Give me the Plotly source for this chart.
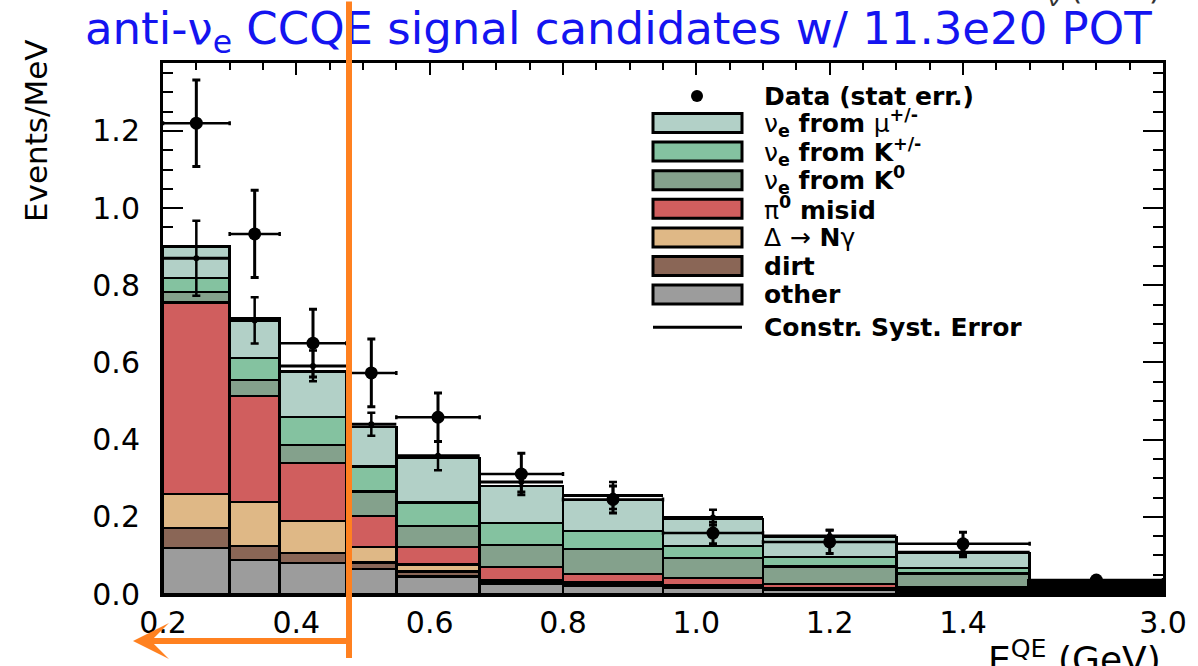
import plotly.graph_objects as go

# Reconstructed neutrino energy bins (GeV); the last bin is drawn compressed
edges = [0.2, 0.3, 0.375, 0.475, 0.55, 0.675, 0.8, 0.95, 1.1, 1.3, 1.5, 3.0]

# Predicted background components (Events/MeV), stacked bottom -> top
other   = [0.119, 0.088, 0.080, 0.065, 0.045, 0.026, 0.022, 0.016, 0.010, 0.006, 0.004]
dirt    = [0.052, 0.036, 0.026, 0.016, 0.013, 0.004, 0.004, 0.003, 0.002, 0.002, 0.002]
delta   = [0.088, 0.114, 0.083, 0.041, 0.019, 0.006, 0.004, 0.003, 0.002, 0.002, 0.002]
pi0     = [0.497, 0.275, 0.150, 0.080, 0.045, 0.034, 0.022, 0.019, 0.012, 0.007, 0.004]
nue_k0  = [0.027, 0.041, 0.047, 0.063, 0.054, 0.057, 0.065, 0.052, 0.045, 0.036, 0.010]
nue_kpm = [0.036, 0.057, 0.073, 0.066, 0.061, 0.057, 0.046, 0.031, 0.025, 0.015, 0.005]
nue_mu  = [0.081, 0.104, 0.118, 0.102, 0.115, 0.096, 0.080, 0.071, 0.052, 0.038, 0.007]

# Constrained prediction and its systematic error
constr     = [0.870, 0.709, 0.591, 0.440, 0.358, 0.290, 0.255, 0.198, 0.150, 0.108, 0.035]
constr_err = [0.097, 0.060, 0.040, 0.030, 0.037, 0.025, 0.035, 0.020, 0.016, 0.012, 0.005]

# Data with statistical errors
data_y   = [1.220, 0.933, 0.650, 0.573, 0.458, 0.311, 0.245, 0.158, 0.135, 0.130, 0.036]
data_err = [0.112, 0.113, 0.088, 0.088, 0.063, 0.054, 0.035, 0.028, 0.030, 0.030, 0.006]

tick_energies = [0.2, 0.4, 0.6, 0.8, 1.0, 1.2, 1.4, 3.0]
tick_labels = ["0.2", "0.4", "0.6", "0.8", "1.0", "1.2", "1.4", "3.0"]

components = [
    ("other", other, "#9c9c9c"),
    ("dirt", dirt, "#8a6656"),
    ("delta", delta, "#dfb886"),
    ("pi0", pi0, "#d05e5e"),
    ("nue_k0", nue_k0, "#84a18c"),
    ("nue_kpm", nue_kpm, "#84c2a0"),
    ("nue_mu", nue_mu, "#b2d0c7"),
]

legend_rows = [
    ("ν<sub>e</sub> from μ<sup>+/-</sup>", "#b2d0c7"),
    ("ν<sub>e</sub> from K<sup>+/-</sup>", "#84c2a0"),
    ("ν<sub>e</sub> from K<sup>0</sup>", "#84a18c"),
    ("π<sup>0</sup> misid", "#d05e5e"),
    ("Δ → Nγ", "#dfb886"),
    ("dirt", "#8a6656"),
    ("other", "#9c9c9c"),
]


def axis_pos(e):
    """Map energy to axis position: linear to 1.5 GeV, 1.5-3.0 GeV squeezed."""
    return e if e <= 1.5 else 1.5 + (e - 1.5) * (0.2 / 1.5)


lo = [axis_pos(e) for e in edges[:-1]]
hi = [axis_pos(e) for e in edges[1:]]
centers = [(a + b) / 2 for a, b in zip(lo, hi)]
widths = [b - a for a, b in zip(lo, hi)]
half = [w / 2 for w in widths]
# outlines merge into a solid band in the narrow high-energy bin
outline_w = [2.5] * (len(widths) - 1) + [4.5]

W, H = 1198, 666
ML, MR, MT, MB = 163, 35, 63, 72
PW, PH = W - ML - MR, H - MT - MB


def px(x):
    return (x - ML) / PW


def py(y):
    return (H - MB - y) / PH


fig = go.Figure()

for name, vals, col in components:
    fig.add_trace(go.Bar(
        x=centers, y=vals, width=widths, name=name,
        marker=dict(color=col, line=dict(color="black", width=outline_w)),
        showlegend=False,
    ))

fig.add_trace(go.Scatter(
    x=centers, y=constr, mode="markers",
    marker=dict(size=0, color="black"),
    error_x=dict(type="data", array=half, color="black", thickness=3, width=0),
    error_y=dict(type="data", array=constr_err, color="black", thickness=2.5, width=4),
    showlegend=False,
))

fig.add_trace(go.Scatter(
    x=centers, y=data_y, mode="markers",
    marker=dict(size=13, color="black"),
    error_x=dict(type="data", array=half, color="black", thickness=2.5, width=2),
    error_y=dict(type="data", array=data_err, color="black", thickness=3, width=4),
    showlegend=False,
))

shapes = []
annotations = []

# Legend block
box_x0, box_x1, text_x = px(653), px(742), px(762)
row_h = 28.6
first_row = 123
legend_font = dict(family="DejaVu Sans", size=25, color="black")
annotations.append(dict(
    x=text_x, y=py(96), xref="paper", yref="paper", xanchor="left", yanchor="middle",
    text="<b>Data (stat err.)</b>", showarrow=False, font=legend_font,
))
fig.add_trace(go.Scatter(
    x=[px(697)], y=[py(96)], xaxis="x2", yaxis="y2", mode="markers",
    marker=dict(size=12, color="black"), showlegend=False,
))
for i, (label, col) in enumerate(legend_rows):
    yc = first_row + i * row_h
    shapes.append(dict(
        type="rect", xref="paper", yref="paper",
        x0=box_x0, x1=box_x1, y0=py(yc + 9.5), y1=py(yc - 9.5),
        fillcolor=col, line=dict(color="black", width=3),
    ))
    lab = label
    for g in ["ν", "μ", "π", "Δ", "γ", "→"]:
        lab = lab.replace(g, "<span style='font-weight:normal'>%s</span>" % g)
    annotations.append(dict(
        x=text_x, y=py(yc), xref="paper", yref="paper", xanchor="left", yanchor="middle",
        text="<b>%s</b>" % lab, showarrow=False, font=legend_font,
    ))
yl = first_row + 7 * row_h + 4
shapes.append(dict(
    type="line", xref="paper", yref="paper",
    x0=box_x0, x1=box_x1, y0=py(yl), y1=py(yl),
    line=dict(color="black", width=3),
))
annotations.append(dict(
    x=text_x, y=py(yl), xref="paper", yref="paper", xanchor="left", yanchor="middle",
    text="<b>Constr. Syst. Error</b>", showarrow=False, font=legend_font,
))

# Axis titles
annotations.append(dict(
    x=px(36), y=py(131), xref="paper", yref="paper", xanchor="center", yanchor="middle",
    text="Events/MeV", textangle=-90, showarrow=False,
    font=dict(family="DejaVu Sans", size=31, color="black"),
))
annotations.append(dict(
    x=px(1163), y=py(632), xref="paper", yref="paper", xanchor="right", yanchor="top",
    text="E<sup>QE</sup> (GeV)", showarrow=False,
    font=dict(family="DejaVu Sans", size=36, color="black"),
))
annotations.append(dict(
    x=px(1014), y=py(670), xref="paper", yref="paper", xanchor="center", yanchor="middle",
    text="ν", showarrow=False,
    font=dict(family="DejaVu Sans", size=22, color="black"),
))
# Axis title of the panel above, cut by the page edge
annotations.append(dict(
    x=px(1163), y=py(13), xref="paper", yref="paper", xanchor="right", yanchor="bottom",
    text="E<sub>ν</sub> (GeV)", showarrow=False,
    font=dict(family="DejaVu Sans", size=32, color="#333333"),
))

# Title
annotations.append(dict(
    x=px(618), y=py(31), xref="paper", yref="paper", xanchor="center", yanchor="middle",
    text="anti-ν<sub>e</sub> CCQE signal candidates w/ 11.3e20 POT", showarrow=False,
    font=dict(family="DejaVu Sans", size=45, color="#1414f0"),
))

# Orange energy-cut marker with arrow pointing to lower energies
cut_px = 349
annotations.append(dict(
    x=px(cut_px), y=py(658), ax=0, ay=-662, xref="paper", yref="paper",
    axref="pixel", ayref="pixel", text="", showarrow=True, arrowhead=0,
    arrowwidth=6, arrowcolor="#ff8120", standoff=0, startstandoff=0,
))
annotations.append(dict(
    x=px(133), y=py(641), ax=cut_px - 133, ay=0, xref="paper", yref="paper",
    axref="pixel", ayref="pixel", text="", showarrow=True, arrowhead=3,
    arrowsize=1.0, arrowwidth=6, arrowcolor="#ff8120", standoff=0, startstandoff=0,
))

tickfont = dict(family="DejaVu Sans", size=30, color="black")
fig.update_layout(
    width=W, height=H,
    margin=dict(l=ML, r=MR, t=MT, b=MB),
    paper_bgcolor="white", plot_bgcolor="white",
    barmode="stack",
    showlegend=False,
    shapes=shapes,
    annotations=annotations,
    xaxis=dict(
        range=[0.2, 1.7],
        tickmode="array",
        tickvals=[axis_pos(e) for e in tick_energies],
        ticktext=tick_labels,
        ticks="inside", ticklen=12, tickwidth=2, tickcolor="black",
        minor=dict(tickmode="linear", tick0=0.2, dtick=0.05, ticks="inside",
                   ticklen=7, tickwidth=2, tickcolor="black"),
        showline=True, linewidth=3, linecolor="black", mirror="allticks",
        showgrid=False, zeroline=False, layer="below traces",
        tickfont=tickfont, ticklabelstandoff=0,
    ),
    yaxis=dict(
        range=[0, 1.376],
        tickmode="linear", tick0=0, dtick=0.2, tickformat=".1f",
        ticks="inside", ticklen=20, tickwidth=2, tickcolor="black",
        minor=dict(tickmode="linear", tick0=0, dtick=0.05, ticks="inside",
                   ticklen=10, tickwidth=2, tickcolor="black"),
        showline=True, linewidth=3, linecolor="black", mirror="allticks",
        showgrid=False, zeroline=False, layer="below traces",
        tickfont=tickfont, ticklabelstandoff=14,
    ),
    xaxis2=dict(range=[0, 1], overlaying="x", visible=False),
    yaxis2=dict(range=[0, 1], overlaying="y", visible=False),
)

fig.write_html("out.html")
